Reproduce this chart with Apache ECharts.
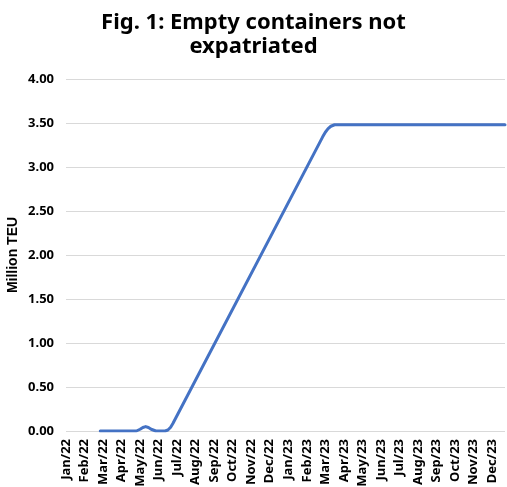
<!DOCTYPE html>
<html>
<head>
<meta charset="utf-8">
<script src="https://cdn.jsdelivr.net/npm/echarts@6/dist/echarts.min.js"></script>
<style>
  html, body { margin: 0; padding: 0; background: #fff; }
  #chart { width: 507px; height: 487px; }
</style>
</head>
<body>
<div id="chart"></div>
<script>
// month labels, one per tick (index 0 = Jan/22)
var monthLabels = ['Jan/22', 'Feb/22', 'Mar/22', 'Apr/22', 'May/22', 'Jun/22', 'Jul/22', 'Aug/22',
  'Sep/22', 'Oct/22', 'Nov/22', 'Dec/22', 'Jan/23', 'Feb/23', 'Mar/23', 'Apr/23', 'May/23',
  'Jun/23', 'Jul/23', 'Aug/23', 'Sep/23', 'Oct/23', 'Nov/23', 'Dec/23'];
// position in months since Jan/22
var monthPos = [1.85, 3.8, 4.0, 4.15, 4.3, 4.45, 4.6, 4.85, 5.35, 5.5, 5.65, 5.77,
  13.85, 14.0, 14.15, 14.3, 14.5, 23.7];
// empty containers, million TEU
var teu = [0, 0, 0.02, 0.04, 0.05, 0.04, 0.02, 0, 0, 0.011, 0.043, 0.085,
  3.34, 3.395, 3.436, 3.463, 3.48, 3.48];
var yTicks = [0, 0.5, 1, 1.5, 2, 2.5, 3, 3.5, 4];

var font = 'Noto Sans';
var chart = echarts.init(document.getElementById('chart'));

chart.setOption({
  animation: false,
  title: {
    text: 'Fig. 1: Empty containers not\nexpatriated',
    left: 'center',
    top: 6,
    textStyle: { fontFamily: font, fontSize: 22, fontWeight: 'bold', color: '#000', lineHeight: 24 }
  },
  grid: { left: 66, right: 2, top: 79, bottom: 56, outerBoundsMode: 'none', containLabel: false },
  xAxis: {
    type: 'value',
    min: 0,
    max: 23.7,
    interval: 1,
    axisLine: { show: false },
    axisTick: { show: false },
    splitLine: { show: false },
    axisLabel: {
      rotate: 90,
      margin: 8,
      fontFamily: font,
      fontSize: 13,
      fontWeight: 'bold',
      color: '#000',
      showMaxLabel: false,
      formatter: function (v) {
        return Number.isInteger(v) ? (monthLabels[v] || '') : '';
      }
    }
  },
  yAxis: {
    type: 'value',
    min: yTicks[0],
    max: yTicks[yTicks.length - 1],
    interval: 0.5,
    name: 'Million TEU',
    nameLocation: 'middle',
    nameGap: 46,
    nameMoveOverlap: false,
    nameTextStyle: { fontFamily: 'Liberation Sans', fontSize: 14, fontWeight: 'bold', color: '#000' },
    axisLine: { show: false },
    axisTick: { show: false },
    splitLine: { lineStyle: { color: '#d9d9d9', width: 1 } },
    axisLabel: {
      margin: 12,
      fontFamily: font,
      fontSize: 13,
      fontWeight: 'bold',
      color: '#000',
      formatter: function (v) { return v.toFixed(2); }
    }
  },
  series: [{
    type: 'line',
    data: monthPos.map(function (m, i) { return [m, teu[i]]; }),
    smooth: false,
    symbol: 'none',
    lineStyle: { color: '#4472C4', width: 3, join: 'round', cap: 'round' }
  }]
});
</script>
</body>
</html>
